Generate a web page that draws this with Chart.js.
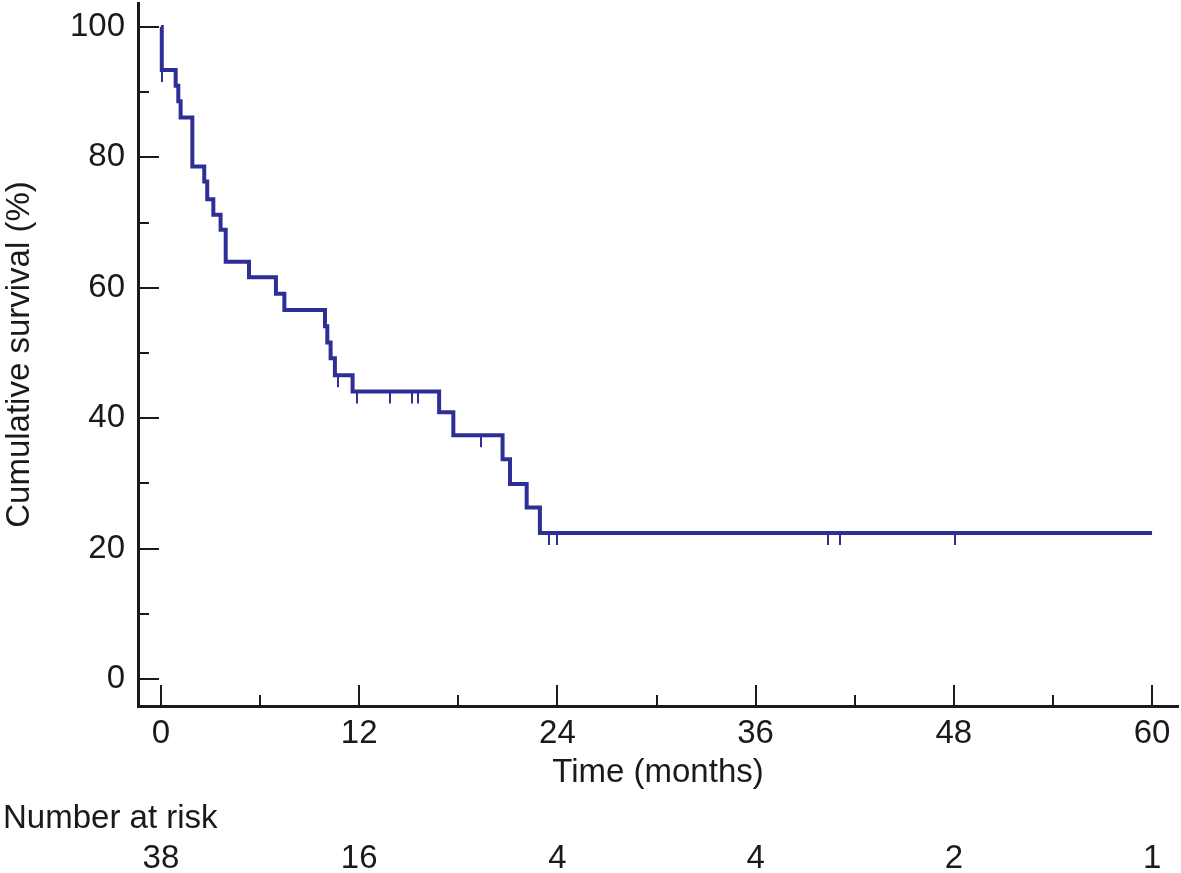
<!DOCTYPE html>
<html>
<head>
<meta charset="utf-8">
<script src="https://cdn.jsdelivr.net/npm/chart.js@4.4.1/dist/chart.umd.min.js"></script>
<style>
  html, body { margin: 0; padding: 0; background: #fff; }
  #wrap { width: 1181px; height: 873px; }
</style>
</head>
<body>
<div id="wrap"><canvas id="kmChart" width="1181" height="873"></canvas></div>
<script>
// Kaplan-Meier steps: time (months) and survival (%) after each drop
const eventTimes = [0, 0.05, 0.89, 1.05, 1.19, 1.9, 2.62, 2.8, 3.17, 3.61, 3.92, 5.33, 6.96, 7.47, 9.93, 10.07, 10.27, 10.53, 11.6, 16.84, 17.7, 20.68, 21.13, 22.14, 22.94, 60];
const survival   = [100, 93.4, 91.0, 88.6, 86.1, 78.6, 76.3, 73.6, 71.2, 68.9, 64.0, 61.6, 59.1, 56.6, 54.1, 51.6, 49.2, 46.6, 44.1, 40.9, 37.4, 33.7, 29.9, 26.3, 22.4, 22.4];
// censored observations (months)
const censorTimes = [0.05, 10.73, 11.85, 13.86, 15.17, 15.54, 19.35, 23.49, 23.95, 40.4, 41.1, 48.1];

const xTickLabels = [0, 12, 24, 36, 48, 60];
const xMinorTicks = [6, 18, 30, 42, 54];
const yTickLabels = [0, 20, 40, 60, 80, 100];
const yMinorTicks = [10, 30, 50, 70, 90];

const riskTimes = [0, 12, 24, 36, 48, 60];
const numberAtRisk = [38, 16, 4, 4, 2, 1];

const lineColor = '#2d2f96';
const inkColor = '#1a1a1a';
const fontFamily = '"Liberation Sans", Arial, sans-serif';
const fontSize = 33;

function survivalAt(t) {
    let s = survival[0];
    for (let i = 0; i < eventTimes.length; i++) {
        if (eventTimes[i] <= t) s = survival[i];
    }
    return s;
}

// little downward tick used as the censor marker
function makeCensorMark() {
    const c = document.createElement('canvas');
    c.width = 2;
    c.height = 26;
    const g = c.getContext('2d');
    g.fillStyle = lineColor;
    g.fillRect(0, 13, 2, 12);
    return c;
}

const tickMarks = {
    id: 'tickMarks',
    afterDraw(chart) {
        const ctx = chart.ctx;
        const xs = chart.scales.x;
        const ys = chart.scales.y;
        const area = chart.chartArea;
        ctx.save();
        ctx.strokeStyle = inkColor;
        ctx.lineWidth = 2;
        const xt = (v, len) => {
            const px = Math.round(xs.getPixelForValue(v));
            ctx.beginPath();
            ctx.moveTo(px, area.bottom);
            ctx.lineTo(px, area.bottom - len);
            ctx.stroke();
        };
        const yt = (v, len) => {
            const py = Math.round(ys.getPixelForValue(v));
            ctx.beginPath();
            ctx.moveTo(area.left, py);
            ctx.lineTo(area.left + len, py);
            ctx.stroke();
        };
        xTickLabels.forEach(v => xt(v, 21));
        xMinorTicks.forEach(v => xt(v, 11));
        yTickLabels.forEach(v => yt(v, 21));
        yMinorTicks.forEach(v => yt(v, 11));

        // number at risk table
        ctx.fillStyle = inkColor;
        ctx.font = fontSize + 'px ' + fontFamily;
        ctx.textBaseline = 'middle';
        ctx.textAlign = 'left';
        ctx.fillText('Number at risk', 3, 819);
        ctx.textAlign = 'center';
        riskTimes.forEach((t, i) => {
            ctx.fillText(String(numberAtRisk[i]), xs.getPixelForValue(t), 859);
        });
        ctx.restore();
    }
};

const ctx = document.getElementById('kmChart').getContext('2d');

new Chart(ctx, {
    type: 'line',
    data: {
        datasets: [
            {
                label: 'Survival',
                data: eventTimes.map((t, i) => ({ x: t, y: survival[i] })),
                stepped: true,
                borderColor: lineColor,
                borderWidth: 4,
                borderJoinStyle: 'miter',
                pointRadius: 0,
                fill: false
            },
            {
                label: 'Censored',
                data: censorTimes.map(t => ({ x: t, y: survivalAt(t) })),
                showLine: false,
                pointStyle: makeCensorMark(),
                pointRadius: 6
            }
        ]
    },
    options: {
        responsive: false,
        animation: false,
        layout: {
            autoPadding: false,
            padding: { left: 0, right: 3, top: 3, bottom: 80 }
        },
        plugins: {
            legend: { display: false },
            tooltip: { enabled: false }
        },
        scales: {
            x: {
                type: 'linear',
                min: -1.39,
                max: 61.57,
                afterBuildTicks: s => { s.ticks = xTickLabels.map(v => ({ value: v })); },
                afterFit: s => {
                    s.height = 87;
                    s.paddingLeft = 0;
                    s.paddingRight = 0;
                },
                grid: { display: false },
                border: { display: true, color: inkColor, width: 3 },
                ticks: {
                    color: inkColor,
                    padding: 0,
                    maxRotation: 0,
                    autoSkip: false,
                    font: { family: fontFamily, size: fontSize }
                },
                title: {
                    display: true,
                    text: 'Time (months)',
                    color: inkColor,
                    padding: 0,
                    font: { family: fontFamily, size: fontSize }
                }
            },
            y: {
                type: 'linear',
                min: -4.14,
                max: 103.68,
                afterBuildTicks: s => { s.ticks = yTickLabels.map(v => ({ value: v })); },
                afterFit: s => {
                    s.width = 138;
                    s.paddingTop = 0;
                    s.paddingBottom = 0;
                },
                grid: { display: false },
                border: { display: true, color: inkColor, width: 3 },
                ticks: {
                    color: inkColor,
                    padding: 5,
                    font: { family: fontFamily, size: fontSize }
                },
                title: {
                    display: true,
                    text: 'Cumulative survival (%)',
                    color: inkColor,
                    padding: 0,
                    font: { family: fontFamily, size: fontSize }
                }
            }
        }
    },
    plugins: [tickMarks]
});
</script>
</body>
</html>
